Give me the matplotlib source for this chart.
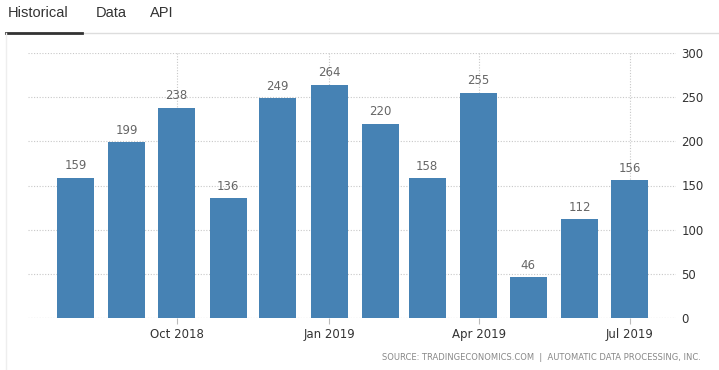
import matplotlib
matplotlib.use("Agg")
import matplotlib.pyplot as plt
import matplotlib.dates as mdates
from matplotlib.lines import Line2D
import datetime as dt

months = ["2018-08", "2018-09", "2018-10", "2018-11", "2018-12", "2019-01",
          "2019-02", "2019-03", "2019-04", "2019-05", "2019-06", "2019-07"]
values = [159, 199, 238, 136, 249, 264, 220, 158, 255, 46, 112, 156]
tick_months = ["2018-10", "2019-01", "2019-04", "2019-07"]
tick_labels = ["Oct 2018", "Jan 2019", "Apr 2019", "Jul 2019"]
y_ticks = [0, 50, 100, 150, 200, 250, 300]
tabs = ["Historical", "Data", "API"]
source = "SOURCE: TRADINGECONOMICS.COM  |  AUTOMATIC DATA PROCESSING, INC."

def to_date(s):
    y, m = s.split("-")
    return dt.datetime(int(y), int(m), 1)

W, H = 719, 370
fig = plt.figure(figsize=(W / 100, H / 100), dpi=100)
fig.patch.set_facecolor("white")

def fx(px):
    return px / W

def fy(py):
    return 1 - py / H

ax = fig.add_axes([fx(28), fy(318), fx(676) - fx(28), fy(53) - fy(318)])
xd = [mdates.date2num(to_date(m)) for m in months]
ax.bar(xd, values, width=22.3, color="#4682b4", zorder=3)
ax.set_xlim(xd[0] - 28.6, xd[0] + 362)
ax.set_ylim(0, 300)
for xi, v in zip(xd, values):
    ax.text(xi, v + 6, str(v), ha="center", va="bottom", fontsize=8.5,
            color="#666666", zorder=4)

ax.yaxis.tick_right()
ax.set_yticks(y_ticks)
ax.set_yticklabels([str(t) for t in y_ticks], fontsize=8.5, color="#333333")
ax.set_xticks([mdates.date2num(to_date(m)) for m in tick_months])
ax.set_xticklabels(tick_labels, fontsize=8.5, color="#333333")
ax.tick_params(axis="y", length=0, pad=4)
ax.tick_params(axis="x", length=4, color="#bbbbbb", pad=3)
ax.grid(True, axis="both", linestyle=(0, (1, 1.5)), color="#c8c8c8", linewidth=0.8, zorder=0)
for s in ax.spines.values():
    s.set_visible(False)
ax.axhline(0, color="#c8c8c8", linestyle=(0, (1, 1.5)), linewidth=0.8, zorder=2)

tab_x = [8, 96, 150]
for t, px in zip(tabs, tab_x):
    fig.text(fx(px), fy(13), t, fontsize=10.5, color="#333333", ha="left", va="center",
             family="Liberation Sans")
fig.add_artist(Line2D([fx(5), fx(W)], [fy(33), fy(33)], color="#dddddd", linewidth=1))
fig.add_artist(Line2D([fx(6), fx(82)], [fy(33), fy(33)], color="#333333", linewidth=2))
fig.add_artist(Line2D([fx(5.5), fx(5.5)], [fy(33), fy(H)], color="#eeeeee", linewidth=1))

fig.text(fx(701), fy(358), source, fontsize=6, color="#888888", ha="right", va="center")

fig.savefig("out.png", dpi=100, facecolor="white")
